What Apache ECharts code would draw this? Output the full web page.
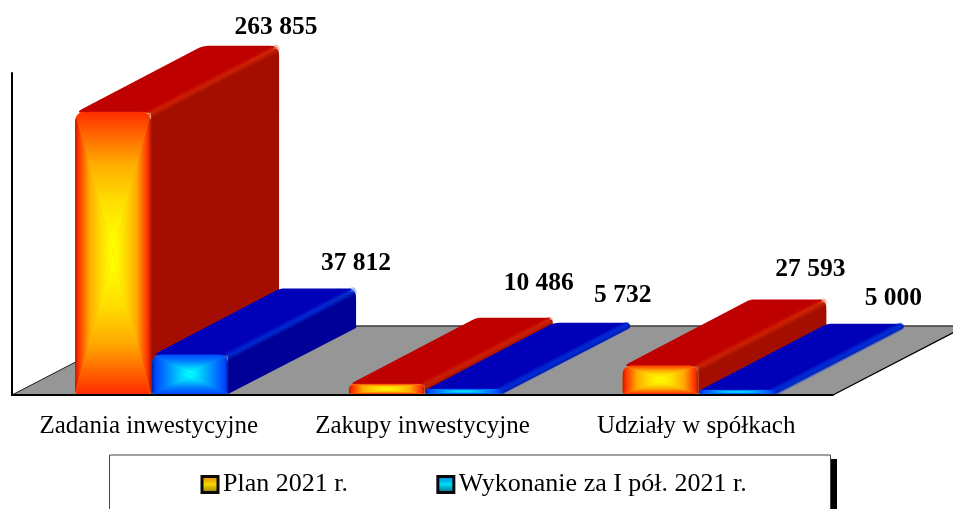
<!DOCTYPE html>
<html>
<head>
<meta charset="utf-8">
<style>html,body{margin:0;padding:0;background:#fff}#c{width:953px;height:509px}canvas{filter:blur(0.35px)}</style>
<script src="https://cdn.jsdelivr.net/npm/echarts@6/dist/echarts.min.js"></script>
</head>
<body>
<div id="c"></div>
<script>
var categories = ['Zadania inwestycyjne', 'Zakupy inwestycyjne', 'Udziały w spółkach'];
var planValues = [263855, 10486, 27593];
var executionValues = [37812, 5732, 5000];
var seriesNames = ['Plan 2021 r.', 'Wykonanie za I pół. 2021 r.'];

// label nudges relative to the back-top centre of each bar
var planLabelNudge = [[35, -18], [24, -34], [22, -30]];
var executionLabelNudge = [[38, -25], [31, -27], [28, -25]];

var FONT = '"Liberation Serif", "Times New Roman", serif';
var DX = 128, DY = 66, BAR_W = 76, SHIFT = 2.7;
var FLOOR_DX = 133, FLOOR_DY = 69;

var PALETTE = [
  { edgeDark: '#a81c00', edge: '#ff2c00', mid1: '#ffaa00', mid2: '#ffdc00', centre: '#ffff00',
    top: '#bf0000', side: '#a40e00', ridge: '#d82800' },
  { edgeDark: '#0018a8', edge: '#0044ff', mid1: '#0084ff', mid2: '#00c4ff', centre: '#00ffff',
    top: '#0000b8', side: '#000098', ridge: '#0038e0' }
];

function fmt(v) { return String(v).replace(/\B(?=(\d{3})+$)/g, ' '); }

function roundedPoly(pts, radii) {
  var out = [], n = pts.length;
  for (var i = 0; i < n; i++) {
    var p = pts[i], a = pts[(i + n - 1) % n], b = pts[(i + 1) % n], r = radii[i];
    if (!r) { out.push(p); continue; }
    var la = Math.hypot(a[0] - p[0], a[1] - p[1]), lb = Math.hypot(b[0] - p[0], b[1] - p[1]);
    var ra = Math.min(r, la / 2), rb = Math.min(r, lb / 2);
    var s = [p[0] + (a[0] - p[0]) * ra / la, p[1] + (a[1] - p[1]) * ra / la];
    var e = [p[0] + (b[0] - p[0]) * rb / lb, p[1] + (b[1] - p[1]) * rb / lb];
    for (var t = 0; t <= 1.0001; t += 0.2) {
      var u = 1 - t;
      out.push([u * u * s[0] + 2 * u * t * p[0] + t * t * e[0], u * u * s[1] + 2 * u * t * p[1] + t * t * e[1]]);
    }
  }
  return out;
}

function grad(x, y, x2, y2, stops) {
  return { type: 'linear', x: x, y: y, x2: x2, y2: y2, colorStops: stops, global: false };
}

function renderBar(seriesPos, nudges) {
  return function (params, api) {
    var idx = api.value(0), val = api.value(1);
    var base = api.coord([idx, 0]), top = api.coord([idx, val]);
    var pal = PALETTE[seriesPos];
    var x0 = base[0] + SHIFT + (seriesPos === 0 ? -BAR_W - 0.5 : 0.5);
    var x1 = x0 + BAR_W;
    var yb = base[1] - 1, yt = top[1];
    var h = yb - yt, cx = (x0 + x1) / 2, cy = (yt + yb) / 2;
    var rBack = Math.min(9, Math.max(2, h * 0.55));
    var children = [];

    // top face
    children.push({ type: 'polygon', shape: { points: roundedPoly(
      [[x0, yt + 1], [x1, yt + 1], [x1 + DX, yt - DY], [x0 + DX, yt - DY]], [Math.min(8, h), 0, rBack, 5]) },
      style: { fill: pal.top } });
    // right side face
    children.push({ type: 'polygon', shape: { points: roundedPoly(
      [[x1, yt], [x1 + DX, yt - DY], [x1 + DX, yb - DY], [x1, yb]], [0, rBack, 0, 0]) },
      style: { fill: pal.side } });
    // soft bevel between the two
    var ridge = [[x1 - 1, yt + 2], [x1 + DX - 3.5, yt - DY + 3]];
    children.push({ type: 'polyline', shape: { points: ridge },
      style: { fill: null, stroke: pal.ridge, lineWidth: 8, lineCap: 'round', opacity: h < 8 ? 0.45 : 0.28 } });
    children.push({ type: 'polyline', shape: { points: ridge },
      style: { fill: null, stroke: pal.ridge, lineWidth: 4, lineCap: 'round', opacity: 0.5 } });

    // front face: four triangles meeting at the centre
    var hw = BAR_W / 2, hh = h / 2;
    var sideDark = Math.min(0.45, 3 / hw);
    var hStops = [
      { offset: 0, color: pal.edgeDark }, { offset: sideDark, color: pal.edge },
      { offset: 0.38, color: pal.mid1 }, { offset: 0.68, color: pal.mid2 }, { offset: 0.95, color: pal.centre }
    ];
    var vStops = [
      { offset: 0, color: pal.edge }, { offset: 0.36, color: pal.mid1 },
      { offset: 0.62, color: pal.mid2 }, { offset: 0.92, color: pal.centre }
    ];
    var c = [cx, cy];
    children.push({
      type: 'group',
      clipPath: { type: 'rect', shape: { x: x0, y: yt, width: BAR_W, height: h, r: [Math.min(9, hh + 1), Math.min(9, hh + 1), 2, 2] } },
      children: [
        { type: 'rect', shape: { x: x0, y: yt, width: BAR_W, height: h }, style: { fill: pal.mid1 } },
        { type: 'polygon', shape: { points: [[x0, yt], [x1, yt], c] }, style: { fill: grad(0, 0, 0, 1, vStops) } },
        { type: 'polygon', shape: { points: [[x0, yb], [x1, yb], c] }, style: { fill: grad(0, 1, 0, 0, vStops) } },
        { type: 'polygon', shape: { points: [[x0, yt], [x0, yb], c] }, style: { fill: grad(0, 0, 1, 0, hStops) } },
        { type: 'polygon', shape: { points: [[x1, yt], [x1, yb], c] }, style: { fill: grad(1, 0, 0, 0, hStops) } }
      ]
    });

    // value label
    var nudge = nudges[idx];
    children.push({ type: 'text', style: {
      text: fmt(val), x: cx + DX + nudge[0], y: yt - DY + nudge[1],
      fill: '#000', font: 'bold 25.5px ' + FONT, textAlign: 'center', textVerticalAlign: 'middle' } });
    return { type: 'group', children: children };
  };
}

function renderFloor(params, api) {
  var a = api.coord([0, 0]);
  var cs = params.coordSys;
  var l = cs.x, r = cs.x + cs.width, y = a[1];
  return { type: 'group', children: [
    { type: 'polygon', shape: { points: [[l, y], [r, y], [r + FLOOR_DX, y - FLOOR_DY], [l + FLOOR_DX, y - FLOOR_DY]] },
      style: { fill: '#969696', stroke: null } },
    { type: 'polyline', shape: { points: [[l, y], [l + FLOOR_DX, y - FLOOR_DY]] },
      style: { fill: null, stroke: '#1c1c1c', lineWidth: 1 } },
    { type: 'polyline', shape: { points: [[l + FLOOR_DX, y - FLOOR_DY], [r + FLOOR_DX, y - FLOOR_DY]] },
      style: { fill: null, stroke: '#3a3a3a', lineWidth: 1.6 } },
    { type: 'polyline', shape: { points: [[r + FLOOR_DX, y - FLOOR_DY], [r, y]] },
      style: { fill: null, stroke: '#000', lineWidth: 1.4 } }
  ] };
}

function rows(values) { return values.map(function (v, i) { return [i, v]; }); }

function iconFill(a, b, c) {
  return grad(0, 0, 0, 1, [{ offset: 0, color: a }, { offset: 0.5, color: b }, { offset: 1, color: c }]);
}

var option = {
  backgroundColor: '#fff',
  animation: false,
  textStyle: { fontFamily: FONT },
  graphic: [
    { type: 'rect', z: -1, shape: { x: 830.5, y: 459, width: 6.5, height: 50 }, style: { fill: '#000' } },
    { type: 'rect', z: -1, shape: { x: 109.5, y: 455, width: 721, height: 60 }, style: { fill: '#fff', stroke: '#444', lineWidth: 1 } }
  ],
  grid: { left: 12, right: 120, top: 73, bottom: 114 },
  legend: {
    left: 195.5, top: 466.5, itemWidth: 16, itemHeight: 16, itemGap: 88.4, selectedMode: false,
    textStyle: { fontFamily: FONT, fontSize: 26, color: '#000' },
    data: [
      { name: seriesNames[0], icon: 'rect', itemStyle: { color: iconFill('#e87800', '#f4d800', '#8a6a00'), borderColor: '#0a0a0a', borderWidth: 3 } },
      { name: seriesNames[1], icon: 'rect', itemStyle: { color: iconFill('#0078d8', '#00dcf4', '#00587a'), borderColor: '#0a0a0a', borderWidth: 3 } }
    ]
  },
  xAxis: {
    type: 'category', data: categories, z: 6,
    axisLine: { show: true, lineStyle: { color: '#000', width: 2 } },
    axisTick: { show: false }, splitLine: { show: false },
    axisLabel: { color: '#000', fontFamily: FONT, fontSize: 25, margin: 19, interval: 0 }
  },
  yAxis: {
    type: 'value', min: 0, max: 300000, interval: 100000, z: 6,
    axisLine: { show: true, lineStyle: { color: '#000', width: 2 } },
    axisTick: { show: false }, axisLabel: { show: false }, splitLine: { show: false }
  },
  series: [
    { type: 'custom', name: 'floor', renderItem: renderFloor, data: [[0, 0]], z: 1, silent: true },
    { type: 'custom', name: seriesNames[0], renderItem: renderBar(0, planLabelNudge), data: rows(planValues), z: 2,
      encode: { x: 0, y: 1 }, itemStyle: { color: '#ff9000' } },
    { type: 'custom', name: seriesNames[1], renderItem: renderBar(1, executionLabelNudge), data: rows(executionValues), z: 3,
      encode: { x: 0, y: 1 }, itemStyle: { color: '#0090ff' } }
  ]
};
echarts.init(document.getElementById('c'), null, { renderer: 'canvas' }).setOption(option);
</script>
</body>
</html>
